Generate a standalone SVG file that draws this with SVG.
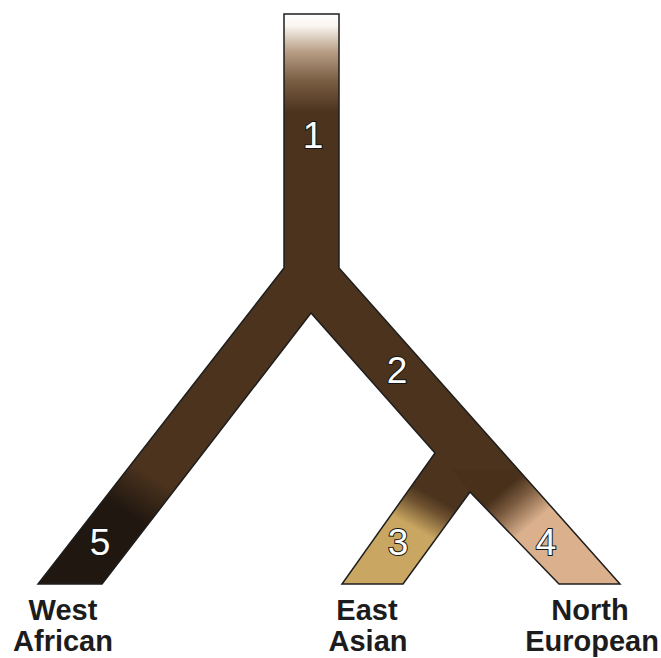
<svg xmlns="http://www.w3.org/2000/svg" width="661" height="658" viewBox="0 0 661 658">
<style>
.num{font-family:"Liberation Sans",Arial,sans-serif;font-size:37px;fill:#ffffff;stroke:#151515;stroke-width:2;paint-order:stroke;text-anchor:middle}
.lab{font-family:"Liberation Sans",Arial,sans-serif;font-size:29px;font-weight:bold;fill:#1c1c1c;text-anchor:middle}
.outline{fill:none;stroke:#1e1e1e;stroke-width:1.5;stroke-linejoin:miter}
</style>
<defs>
<polygon id="shape" points="284,14 339,14 339,268 620,584 559,584 470,492 403,584 342,584 435,453 311,313 102,584 38,584 284,268"/>
<clipPath id="clip"><use href="#shape"/></clipPath>
<linearGradient id="gTop" gradientUnits="userSpaceOnUse" x1="0" y1="14" x2="0" y2="112">
<stop offset="0" stop-color="#ffffff"/>
<stop offset="0.12" stop-color="#faf6f1"/>
<stop offset="0.38" stop-color="#b89f86"/>
<stop offset="0.68" stop-color="#7a5e43"/>
<stop offset="1" stop-color="#4b331e"/>
</linearGradient>
<linearGradient id="gWest" gradientUnits="userSpaceOnUse" x1="152" y1="476" x2="128" y2="514">
<stop offset="0" stop-color="#4b331e"/>
<stop offset="1" stop-color="#201710"/>
</linearGradient>
<linearGradient id="gEast" gradientUnits="userSpaceOnUse" x1="432" y1="496" x2="414" y2="528">
<stop offset="0" stop-color="#4b331e"/>
<stop offset="0.35" stop-color="#6e5230"/>
<stop offset="1" stop-color="#c9a762"/>
</linearGradient>
<linearGradient id="gNorth" gradientUnits="userSpaceOnUse" x1="503" y1="490" x2="532" y2="524">
<stop offset="0" stop-color="#48301b"/>
<stop offset="0.4" stop-color="#7c5c40"/>
<stop offset="1" stop-color="#dab08d"/>
</linearGradient>
</defs>

<g id="tree">
<use href="#shape" fill="#4b331e"/>
<g clip-path="url(#clip)">
<rect x="280" y="10" width="64" height="104" fill="url(#gTop)"/>
<polygon points="0,440 260,440 260,600 0,600" fill="url(#gWest)"/>
<polygon points="435,453 470,492 403,584 342,584" fill="url(#gEast)"/>
<polygon points="452,470 560,470 640,590 559,590 470,492" fill="url(#gNorth)"/>
</g>
<use href="#shape" class="outline"/>
</g>

<g id="n1"><text class="num" x="313" y="148">1</text></g>
<g id="n2"><text class="num" x="397" y="383">2</text></g>
<g id="n3"><text class="num" x="398" y="555">3</text></g>
<g id="n4"><text class="num" x="546" y="555">4</text></g>
<g id="n5"><text class="num" x="100" y="555">5</text></g>

<g id="west"><text class="lab" x="63" y="620">West</text><text class="lab" x="63" y="651">African</text></g>
<g id="east"><text class="lab" x="367" y="620">East</text><text class="lab" x="368" y="651">Asian</text></g>
<g id="north"><text class="lab" x="590" y="620">North</text><text class="lab" x="592" y="651">European</text></g>
</svg>
